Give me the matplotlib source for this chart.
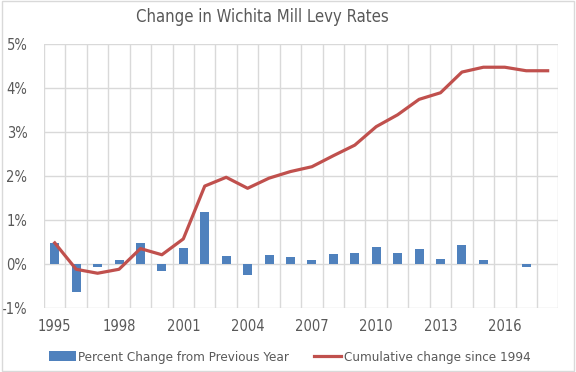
import matplotlib
matplotlib.use('Agg')
import matplotlib.pyplot as plt
from matplotlib.patches import Rectangle

# data
years = list(range(1995, 2019))
pct_change = [0.48, -0.63, -0.06, 0.09, 0.48, -0.15, 0.37, 1.19, 0.18, -0.25, 0.20, 0.16,
              0.08, 0.23, 0.26, 0.39, 0.26, 0.34, 0.11, 0.43, 0.09, 0.0, -0.06, 0.0]
cumulative = [0.48, -0.12, -0.21, -0.12, 0.35, 0.21, 0.57, 1.77, 1.97, 1.72, 1.95, 2.10,
              2.21, 2.46, 2.70, 3.12, 3.39, 3.74, 3.89, 4.36, 4.47, 4.47, 4.39, 4.39]
y_ticks = [-1, 0, 1, 2, 3, 4, 5]

plt.rcParams['font.family'] = ['DejaVu Sans']
plt.rcParams['font.stretch'] = 'condensed'
txt_color = '#595959'
grid_color = '#D9D9D9'

fig = plt.figure(figsize=(5.76, 3.72), dpi=100)
ax = fig.add_axes([0.0764, 0.172, 0.893, 0.710])

x = list(range(len(years)))
bars = ax.bar(x, pct_change, width=0.42, color='#4F81BD', zorder=3)
line, = ax.plot(x, cumulative, color='#C0504D', linewidth=2.3, zorder=4)

ax.set_xlim(-0.5, len(years) - 0.5)
ax.set_ylim(-1, 5)
ax.set_yticks(y_ticks)
ax.set_yticklabels([f'{v}%' for v in y_ticks])
ax.set_xticks(x[::3])
ax.set_xticklabels([str(y) for y in years[::3]])
ax.set_xticks([i - 0.5 for i in range(len(years) + 1)], minor=True)

ax.grid(True, axis='y', color=grid_color, linewidth=1, zorder=0)
ax.grid(True, axis='x', which='minor', color=grid_color, linewidth=1, zorder=0)
ax.tick_params(axis='both', which='both', length=0, labelsize=10.5, colors=txt_color)
ax.tick_params(axis='y', pad=12)
ax.tick_params(axis='x', pad=8)
for s in ax.spines.values():
    s.set_visible(False)

fig.text(0.455, 0.955, 'Change in Wichita Mill Levy Rates', ha='center', va='center',
         fontsize=12, color=txt_color)

fig.legend([bars, line], ['Percent Change from Previous Year', 'Cumulative change since 1994'],
           loc='center', bbox_to_anchor=(0.503, 0.04), ncol=2, frameon=False,
           fontsize=9.6, labelcolor=txt_color, handlelength=2.0, handletextpad=0.2,
           columnspacing=1.9)

# light chart-area border
fig.patches.append(Rectangle((0.004, 0.003), 0.992, 0.994, transform=fig.transFigure,
                             fill=False, edgecolor='#D9D9D9', linewidth=1))

fig.savefig('out.png', dpi=100)
